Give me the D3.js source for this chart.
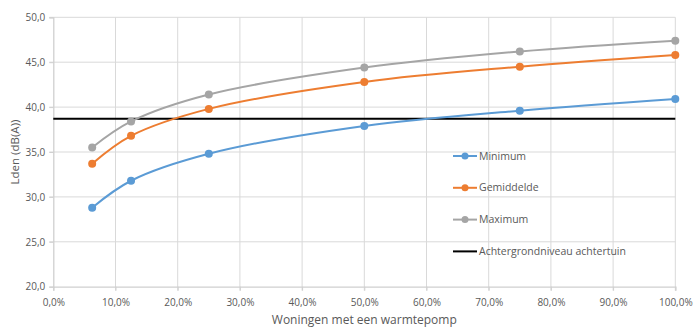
<!DOCTYPE html>
<html><head><meta charset="utf-8">
<script src="https://cdn.jsdelivr.net/npm/d3@7"></script>
<style>
html,body{margin:0;padding:0;background:#fff;}
svg{display:block;font-family:"Open Sans","Noto Sans",sans-serif;}
</style></head>
<body>
<svg id="chart" width="696" height="327"></svg>
<script>
const xValues = [0.0625, 0.125, 0.25, 0.5, 0.75, 1.0];
const minimum = [28.8, 31.8, 34.8, 37.9, 39.6, 40.9];
const gemiddelde = [33.7, 36.8, 39.8, 42.8, 44.5, 45.8];
const maximum = [35.5, 38.4, 41.4, 44.4, 46.2, 47.4];
const achtergrond = 38.7;
const seriesNames = ["Minimum", "Gemiddelde", "Maximum", "Achtergrondniveau achtertuin"];
const seriesColors = ["#5B9BD5", "#ED7D31", "#A5A5A5", "#000000"];
const xTicks = [0,0.1,0.2,0.3,0.4,0.5,0.6,0.7,0.8,0.9,1.0];
const yTicks = [20,25,30,35,40,45,50];
const xTitle = "Woningen met een warmtepomp";
const yTitle = "Lden (dB(A))";

const svg = d3.select("#chart");
const m = {left:53.3, right:696-675.3, top:17.3, bottom:327-286.7};
const W = 696, H = 327;
const x = d3.scaleLinear().domain([0,1]).range([m.left, W-m.right]);
const y = d3.scaleLinear().domain([20,50]).range([H-m.bottom, m.top]);
const fmtPct = d => (d*100).toFixed(1).replace(".", ",") + "%";
const fmtY = d => d.toFixed(1).replace(".", ",");

// grid
const g = svg.append("g");
g.selectAll(".vg").data(xTicks.slice(1)).enter().append("line")
  .attr("x1", d=>x(d)).attr("x2", d=>x(d)).attr("y1", y(50)).attr("y2", y(20)+4)
  .attr("stroke", "#d9d9d9").attr("stroke-width", 1);
g.selectAll(".hg").data(yTicks.slice(1)).enter().append("line")
  .attr("x1", x(0)-4).attr("x2", x(1)).attr("y1", d=>y(d)).attr("y2", d=>y(d))
  .attr("stroke", "#d9d9d9").attr("stroke-width", 1);

// axes
const xAxis = d3.axisBottom(x).tickValues(xTicks).tickFormat(fmtPct).tickSize(4).tickPadding(8);
const yAxis = d3.axisLeft(y).tickValues(yTicks).tickFormat(fmtY).tickSize(4).tickPadding(4);
const gx = svg.append("g").attr("transform", `translate(0,${y(20)})`).call(xAxis);
const gy = svg.append("g").attr("transform", `translate(${x(0)},0)`).call(yAxis);
[gx, gy].forEach(a => {
  a.select(".domain").attr("stroke", "#d0d0d0").attr("stroke-width", 1.3);
  a.selectAll(".tick line").attr("stroke", "#d0d0d0");
  a.selectAll("text").attr("fill", "#595959").attr("font-size", 10)
    .attr("font-family", "'Open Sans','Noto Sans',sans-serif");
});

// titles
svg.append("text").attr("x", (x(0)+x(1))/2).attr("y", 324).attr("text-anchor", "middle")
  .attr("fill", "#595959").attr("font-size", 12).text(xTitle);
svg.append("text").attr("transform", `translate(19,${(y(20)+y(50))/2}) rotate(-90)`)
  .attr("text-anchor", "middle").attr("fill", "#595959").attr("font-size", 11.5).text(yTitle);

// background line
svg.append("line").attr("x1", x(0)).attr("x2", x(1)).attr("y1", y(achtergrond)).attr("y2", y(achtergrond))
  .attr("stroke", "#000").attr("stroke-width", 2);

// series
const series = [minimum, gemiddelde, maximum];
const line = d3.line().x((d,i)=>x(xValues[i])).y(d=>y(d)).curve(d3.curveCatmullRom.alpha(0.5));
series.forEach((s, k) => {
  svg.append("path").datum(s).attr("d", line).attr("fill", "none")
    .attr("stroke", seriesColors[k]).attr("stroke-width", 2);
  svg.selectAll(null).data(s).enter().append("circle")
    .attr("cx", (d,i)=>x(xValues[i])).attr("cy", d=>y(d)).attr("r", 4)
    .attr("fill", seriesColors[k]);
});

// legend
const lg = svg.append("g");
seriesNames.forEach((name, k) => {
  const ly = 156 + k*31.8;
  lg.append("line").attr("x1", 453).attr("x2", 477).attr("y1", ly).attr("y2", ly)
    .attr("stroke", seriesColors[k]).attr("stroke-width", 2);
  if (k < 3) lg.append("circle").attr("cx", 465).attr("cy", ly).attr("r", 3.5).attr("fill", seriesColors[k]);
  lg.append("text").attr("x", 479).attr("y", ly).attr("dy", "0.35em")
    .attr("fill", "#595959").attr("font-size", 10.5).text(name);
});
</script>
</body></html>
